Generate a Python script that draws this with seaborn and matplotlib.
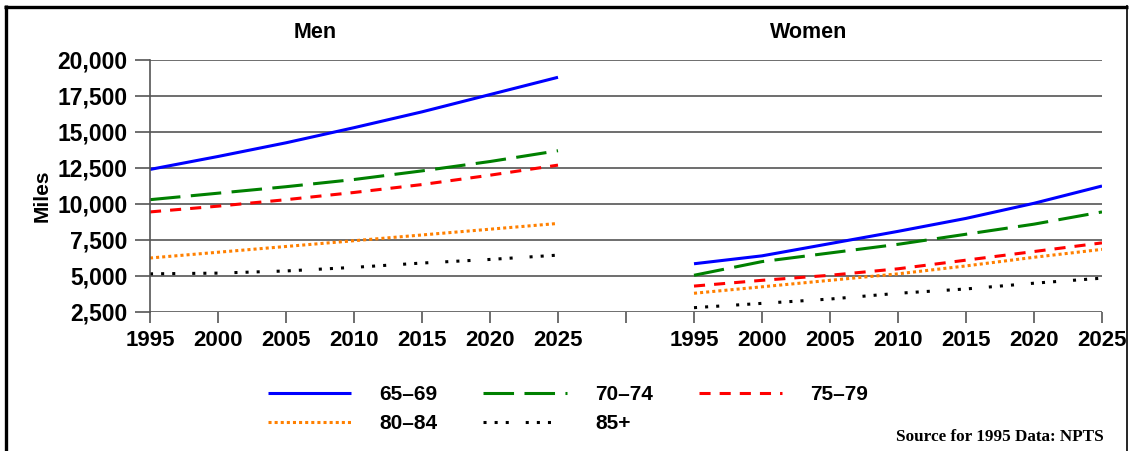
import numpy as np
import pandas as pd
import matplotlib
matplotlib.use("Agg")
import matplotlib.pyplot as plt
import seaborn as sns
from matplotlib.lines import Line2D
from matplotlib.ticker import FuncFormatter, FixedLocator

# ---------------- data ----------------
years = [1995, 2000, 2005, 2010, 2015, 2020, 2025]
age_groups = ["65–69", "70–74", "75–79", "80–84", "85+"]
panels = ["Men", "Women"]

men_65_69 = [12400, 13300, 14250, 15300, 16400, 17600, 18800]
men_70_74 = [10300, 10750, 11200, 11700, 12300, 12950, 13700]
men_75_79 = [9450, 9850, 10300, 10800, 11350, 12000, 12700]
men_80_84 = [6250, 6650, 7050, 7450, 7850, 8250, 8650]
men_85_plus = [5150, 5200, 5350, 5600, 5900, 6150, 6450]

women_65_69 = [5850, 6400, 7250, 8100, 9000, 10050, 11250]
women_70_74 = [5050, 6000, 6600, 7200, 7900, 8600, 9450]
women_75_79 = [4300, 4700, 5050, 5500, 6100, 6700, 7300]
women_80_84 = [3800, 4250, 4700, 5150, 5700, 6300, 6850]
women_85_plus = [2800, 3100, 3400, 3800, 4100, 4500, 4850]

y_ticks = [2500, 5000, 7500, 10000, 12500, 15000, 17500, 20000]
source_note = "Source for 1995 Data: NPTS"
y_label = "Miles"

series = {
    "Men": [men_65_69, men_70_74, men_75_79, men_80_84, men_85_plus],
    "Women": [women_65_69, women_70_74, women_75_79, women_80_84, women_85_plus],
}

# layout: the women's panel is shifted right along the shared x axis
panel_offset = {"Men": 0, "Women": 40}

rows = []
for p in panels:
    for g, vals in zip(age_groups, series[p]):
        for yr, v in zip(years, vals):
            rows.append({"panel": p, "age": g, "year": yr,
                         "xpos": yr + panel_offset[p], "miles": v})
df = pd.DataFrame(rows)

# ---------------- style ----------------
sns.set_theme(style="white")
plt.rcParams["font.family"] = ["Liberation Sans", "DejaVu Sans"]
plt.rcParams["lines.scale_dashes"] = False
plt.rcParams["text.color"] = "black"
plt.rcParams["xtick.labelcolor"] = "black"
plt.rcParams["ytick.labelcolor"] = "black"

styles = {
    "65–69": dict(color="#0000FF", linestyle="-"),
    "70–74": dict(color="#008000", linestyle=(0, (22, 7.5))),
    "75–79": dict(color="#FF0000", linestyle=(0, (8, 6.5))),
    "80–84": dict(color="#FF8000", linestyle=(0, (2.2, 2.2))),
    "85+": dict(color="#000000", linestyle=(0, (2.2, 5.8, 2.2, 5.8, 2.2, 12.2))),
}
LW = 2.2

W, H = 1134, 451
fig = plt.figure(figsize=(W / 100, H / 100), dpi=100)
ax = fig.add_axes([150 / W, 1 - 312 / H, 952 / W, 252 / H])

for p in panels:
    for g in age_groups:
        sub = df[(df.panel == p) & (df.age == g)]
        sns.lineplot(data=sub, x="xpos", y="miles", ax=ax, lw=LW,
                     legend=False, solid_capstyle="butt",
                     dash_capstyle="butt", **styles[g])

# axes
xmin = years[0] + panel_offset["Men"]
xmax = years[-1] + panel_offset["Women"]
ax.set_xlim(xmin, xmax)
ax.set_ylim(y_ticks[0], y_ticks[-1])

xt = list(range(xmin, xmax + 1, 5))
lookup = {}
for p in panels:
    for yr in years:
        lookup[yr + panel_offset[p]] = str(yr)
xlabels = [lookup.get(x, "") for x in xt]
ax.xaxis.set_major_locator(FixedLocator(xt))
ax.set_xticklabels(xlabels)
ax.set_yticks(y_ticks)
ax.yaxis.set_major_formatter(FuncFormatter(lambda v, _: f"{int(v):,}"))

ax.set_xlabel("")
ax.set_ylabel("")
ax.grid(axis="y", color="#555555", lw=1.2)
ax.grid(axis="x", visible=False)
for s in ["top", "right", "bottom"]:
    ax.spines[s].set_visible(False)
ax.spines["left"].set_color("#555555")
ax.spines["left"].set_linewidth(1.2)

ax.tick_params(axis="x", direction="out", length=8, width=1.2, color="#555555",
               pad=5, labelsize=16, bottom=True, labelcolor="black")
ax.tick_params(axis="y", direction="out", length=11, width=1.2, color="#555555",
               pad=5, labelsize=16.5, left=True, labelcolor="black")
for lab in ax.get_xticklabels() + ax.get_yticklabels():
    lab.set_fontweight("bold")

# titles, labels
fig.text(315 / W, 1 - 33 / H, "Men", ha="center", va="center",
         fontsize=15.5, fontweight="bold", color="black")
fig.text(809 / W, 1 - 33 / H, "Women", ha="center", va="center",
         fontsize=15.5, fontweight="bold", color="black")
fig.text(42 / W, 1 - 196 / H, y_label, rotation=90, ha="center", va="center",
         fontsize=15, fontweight="bold", color="black")
fig.text(1104 / W, 1 - 437 / H, source_note, ha="right", va="center",
         family=["Liberation Serif"], fontsize=12.3, fontweight="bold",
         color="black")

# legend (row-wise order in 3 columns)
handles = {g: Line2D([], [], lw=LW, solid_capstyle="butt",
                     dash_capstyle="butt", **styles[g]) for g in age_groups}
order = ["65–69", "80–84", "70–74", "85+", "75–79"]
leg = fig.legend([handles[g] for g in order], order, ncol=3, loc="upper left",
                 bbox_to_anchor=(268 / W, 1 - 385 / H), frameon=False,
                 handlelength=4.0, handletextpad=1.35, columnspacing=2.2,
                 labelspacing=0.5, borderpad=0, borderaxespad=0,
                 prop=dict(weight="bold", size=15))
for t in leg.get_texts():
    t.set_color("black")

# outer frame
fig.add_artist(Line2D([5.5 / W, 5.5 / W], [0, 1 - 4.5 / H], transform=fig.transFigure,
                      color="black", lw=2.4, solid_capstyle="butt"))
fig.add_artist(Line2D([4 / W, 1128 / W], [1 - 6.5 / H, 1 - 6.5 / H], transform=fig.transFigure,
                      color="black", lw=2.4, solid_capstyle="butt"))
fig.add_artist(Line2D([1127 / W, 1127 / W], [0, 1 - 5 / H], transform=fig.transFigure,
                      color="black", lw=1.2, solid_capstyle="butt"))

fig.savefig("out.png", dpi=100)
